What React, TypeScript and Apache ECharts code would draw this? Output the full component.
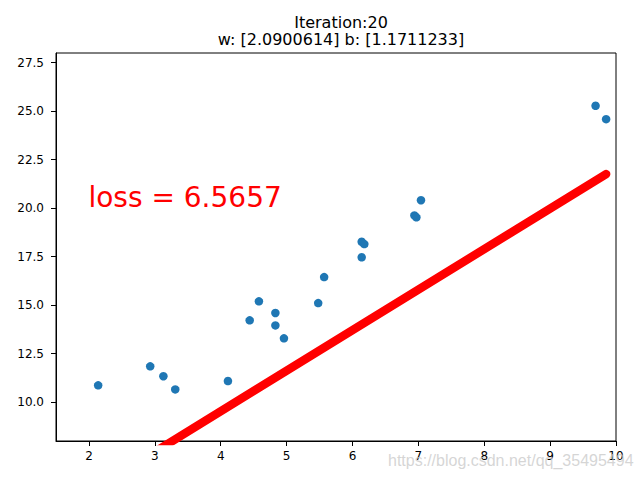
import React, { useEffect, useRef } from "react";
import * as echarts from "echarts";

const pointX = [2.14, 2.93, 3.13, 3.31, 4.11, 4.44, 4.58, 4.83, 4.83, 4.96, 5.48, 5.57, 6.14, 6.18, 6.14, 6.94, 6.97, 7.04, 9.69, 9.85];
const pointY = [10.87, 11.85, 11.34, 10.66, 11.09, 14.22, 15.2, 14.6, 13.96, 13.29, 15.11, 16.45, 18.27, 18.15, 17.47, 19.63, 19.53, 20.41, 25.28, 24.59];
const fitLineX = [2.14, 9.85];
const fitLineY = [5.64, 21.76];
const xTicks = [2, 3, 4, 5, 6, 7, 8, 9, 10];
const yTicks = [10, 12.5, 15, 17.5, 20, 22.5, 25, 27.5];
const titleLines = ["Iteration:20", "w: [2.0900614] b: [1.1711233]"];
const lossText = "loss = 6.5657";
const lossAnchor = [2, 20];
const watermark = "https://blog.csdn.net/qq_35495494";

const FONT = "DejaVu Sans";

export default function App() {
  const ref = useRef<HTMLDivElement>(null);
  useEffect(() => {
    if (!ref.current) return;
    const chart = echarts.init(ref.current, null, { renderer: "svg" });
    const axisCommon = {
      axisLine: { show: true, onZero: false, lineStyle: { color: "#000", width: 1 } },
      axisTick: { show: true, inside: false, length: 5, lineStyle: { color: "#000", width: 1 } },
      splitLine: { show: false },
    };
    chart.setOption({
      animation: false,
      backgroundColor: "#fff",
      title: {
        text: titleLines.join("\n"),
        left: 336,
        top: 9,
        textAlign: "center",
        textStyle: { fontFamily: FONT, fontSize: 16, fontWeight: "normal", color: "#000", lineHeight: 17 },
      },
      grid: { left: 56, right: 24, top: 53, bottom: 39, show: true, borderColor: "#000", borderWidth: 1, backgroundColor: "transparent" },
      xAxis: {
        type: "value",
        min: 1.5,
        max: 10,
        ...axisCommon,
        axisTick: { ...axisCommon.axisTick, customValues: xTicks },
        axisLabel: { customValues: xTicks, fontFamily: FONT, fontSize: 12, color: "#000", margin: 9 },
      },
      yAxis: {
        type: "value",
        min: 8,
        max: 28,
        ...axisCommon,
        axisTick: { ...axisCommon.axisTick, customValues: yTicks },
        axisLabel: {
          customValues: yTicks,
          fontFamily: FONT,
          fontSize: 12,
          color: "#000",
          margin: 12,
          formatter: (v: number) => v.toFixed(1),
        },
      },
      series: [
        {
          type: "scatter",
          data: pointX.map((x, i) => [x, pointY[i]]),
          symbol: "circle",
          symbolSize: 8.5,
          itemStyle: { color: "#1f77b4", opacity: 1 },
          z: 2,
        },
        {
          type: "line",
          data: fitLineX.map((x, i) => [x, fitLineY[i]]),
          symbol: "none",
          clip: true,
          lineStyle: { color: "#ff0000", width: 8.5, cap: "round", opacity: 1 },
          z: 3,
        },
        {
          type: "scatter",
          data: [lossAnchor],
          symbolSize: 1,
          silent: true,
          itemStyle: { opacity: 0 },
          label: {
            show: true,
            formatter: () => lossText,
            position: [0, 0],
            align: "left",
            verticalAlign: "middle",
            offset: [0, -10],
            fontFamily: FONT,
            fontSize: 28,
            color: "#ff0000",
            opacity: 1,
          },
          z: 4,
        },
      ],
      graphic: [
        {
          type: "text",
          left: 388,
          top: 452,
          z: 100,
          style: {
            text: watermark,
            fontFamily: "Liberation Sans",
            fontSize: 16,
            fill: "rgba(200,200,200,0.75)",
          },
        },
      ],
    });
    return () => chart.dispose();
  }, []);
  return <div ref={ref} style={{ position: "absolute", left: 0, top: 0, width: 640, height: 480 }} />;
}
